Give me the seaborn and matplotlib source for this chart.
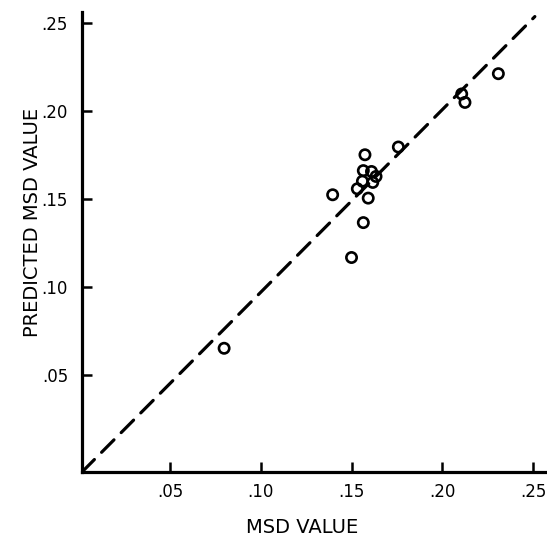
import matplotlib
matplotlib.use("Agg")
import matplotlib.pyplot as plt
import seaborn as sns
import pandas as pd

# Data
msd_value = [0.1574, 0.1758, 0.1565, 0.1610, 0.1635, 0.1560, 0.1617, 0.1532,
             0.1396, 0.1592, 0.1565, 0.1500, 0.0798, 0.2107, 0.2125, 0.2309]
predicted_msd = [0.1750, 0.1794, 0.1660, 0.1655, 0.1627, 0.1600, 0.1593, 0.1557,
                 0.1523, 0.1504, 0.1365, 0.1167, 0.0652, 0.2095, 0.2047, 0.2210]
line_x = [0.0015, 0.2510]
line_y = [-0.0050, 0.2534]
tick_values = [0.05, 0.10, 0.15, 0.20, 0.25]
tick_labels = [".05", ".10", ".15", ".20", ".25"]

sns.set_theme(style="white")
plt.rcParams["font.family"] = ["DejaVu Sans"]

df = pd.DataFrame({"x": msd_value, "y": predicted_msd})
line_df = pd.DataFrame({"x": line_x, "y": line_y})

fig = plt.figure(figsize=(5.47, 5.39), dpi=100)
ax = fig.add_axes([82 / 547, 1 - 472 / 539, (545 - 82) / 547, (472 - 12) / 539])

sns.lineplot(data=line_df, x="x", y="y", ax=ax, color="black", linewidth=2.3,
             sort=False, estimator=None)
ax.lines[0].set_dashes([5.5, 3.2])
ax.lines[0].set_dash_capstyle("round")

sns.scatterplot(data=df, x="x", y="y", ax=ax, marker="o", s=55,
                facecolors="none", edgecolor="black", linewidth=1.9, zorder=3)

ax.set_xlim(0.0015, 0.2566)
ax.set_ylim(-0.005, 0.256)
ax.set_xticks(tick_values)
ax.set_xticklabels(tick_labels)
ax.set_yticks(tick_values)
ax.set_yticklabels(tick_labels)

for side in ["top", "right"]:
    ax.spines[side].set_visible(False)
for side in ["left", "bottom"]:
    ax.spines[side].set_linewidth(2.3)
    ax.spines[side].set_color("black")

ax.tick_params(axis="both", direction="in", length=7, width=1.8, color="black",
               labelsize=12, labelcolor="black")
ax.tick_params(axis="x", pad=8, bottom=True)
ax.tick_params(axis="y", pad=10, left=True)

ax.set_xlabel("MSD VALUE", fontsize=14, color="black")
ax.set_ylabel("PREDICTED MSD VALUE", fontsize=14, color="black")
ax.xaxis.set_label_coords((302 - 82) / 463, -(518 - 472) / 460)
ax.yaxis.set_label_coords(-(82 - 42) / 463, (472 - 222) / 460)

fig.savefig("out.png", dpi=100)
